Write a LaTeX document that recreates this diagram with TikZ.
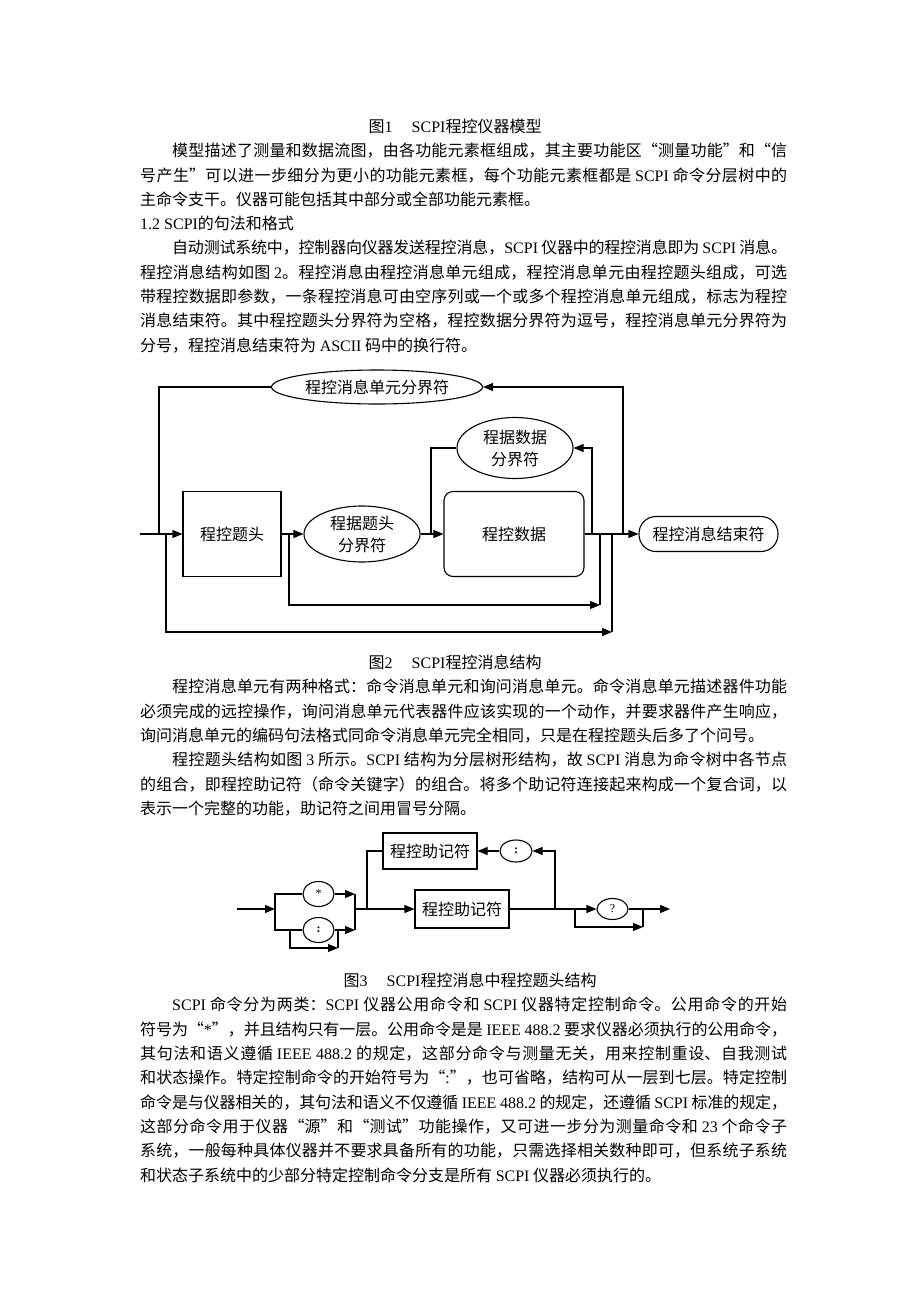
\documentclass[tikz,border=0pt]{standalone}
\usepackage{fontspec}
\setmainfont{Noto Sans CJK SC}
\newfontfamily\latinfont{Liberation Serif}
\newcommand\EN[1]{{\latinfont #1}}
\usetikzlibrary{arrows.meta,shapes.geometric,shapes.misc}
\newcommand\JL[2][0pt]{\parbox[t]{647pt}{\XeTeXlinebreaklocale "zh"\XeTeXlinebreakskip=0pt plus 3pt minus 0.6pt\tolerance=10000\hbadness=10000\parfillskip=0pt\parindent=0pt\noindent\hspace*{#1}#2}}
\begin{document}
\begin{tikzpicture}[x=1pt,y=-1pt,font=\fontsize{16pt}{22pt}\selectfont,
  ln/.style={line width=1.1pt},
  arr/.style={line width=1.1pt,-{Triangle[length=10pt,width=8pt]}},
  txt/.style={anchor=base west,inner sep=0pt},
  ttl/.style={anchor=base,inner sep=0pt},
  bx/.style={draw,line width=1.1pt,inner sep=0pt,align=center},
  el/.style={draw,ellipse,line width=1.1pt,inner sep=0pt,align=center},
  sm/.style={font=\fontsize{12pt}{12pt}\selectfont\latinfont}]
\useasboundingbox (0,0) rectangle (920,1302);
\fill[white] (0,0) rectangle (920,1302);

% ---------- text block 1 ----------
\node[ttl] (f1) at (455,132) {图\EN{1}\hspace{1.2em}\EN{SCPI}程控仪器模型};
\node[txt] (p1) at (140,156) {\JL[32pt]{模型描述了测量和数据流图，由各功能元素框组成，其主要功能区“测量功能”和“信}};
\node[txt] (p2) at (140,181) {\JL{号产生”可以进一步细分为更小的功能元素框，每个功能元素框都是 \EN{SCPI} 命令分层树中的}};
\node[txt] (p3) at (140,205) {主命令支干。仪器可能包括其中部分或全部功能元素框。};
\node[txt] (p4) at (140,229) {\EN{1.2 SCPI}的句法和格式};
\node[txt] (p5) at (140,253) {\JL[32pt]{自动测试系统中，控制器向仪器发送程控消息，\EN{SCPI} 仪器中的程控消息即为 \EN{SCPI} 消息。}};
\node[txt] (p6) at (140,278) {\JL{程控消息结构如图 \EN{2}。程控消息由程控消息单元组成，程控消息单元由程控题头组成，可选}};
\node[txt] (p7) at (140,302) {\JL{带程控数据即参数，一条程控消息可由空序列或一个或多个程控消息单元组成，标志为程控}};
\node[txt] (p8) at (140,326) {\JL{消息结束符。其中程控题头分界符为空格，程控数据分界符为逗号，程控消息单元分界符为}};
\node[txt] (p9) at (140,351) {分号，程控消息结束符为 \EN{ASCII} 码中的换行符。};

% ---------- figure 2 ----------
\node[el,minimum width=211pt,minimum height=34pt] (sep1) at (377,387) {程控消息单元分界符};
\node[bx,minimum width=98pt,minimum height=85pt] (hdr) at (232,534) {程控题头};
\node[el,minimum width=116pt,minimum height=56pt] (hsep) at (362,534) {程据题头\\分界符};
\node[el,minimum width=116pt,minimum height=61pt] (dsep) at (515,448) {程据数据\\分界符};
\node[bx,rounded corners=9pt,minimum width=140pt,minimum height=85pt] (data) at (514,534) {程控数据};
\node[bx,rounded corners=17pt,minimum width=139pt,minimum height=35pt] (endn) at (708.5,534) {程控消息结束符};

\coordinate (in1) at (140,534);
\coordinate (j1) at (159,534);
\coordinate (j2) at (166,534);
\coordinate (j3) at (289,534);
\coordinate (j4) at (431,534);
\coordinate (j5) at (592,534);
\coordinate (k3) at (600,534);
\coordinate (k2) at (612,534);
\coordinate (j6) at (623,534);
\coordinate (b3) at (600,605);
\coordinate (b2) at (612,632);

\draw[arr] (in1) -- (hdr.west);
\draw[ln] (j1) |- (sep1.west);
\draw[arr] (j2) |- (b2);
\draw[ln] (b2) -- (k2);
\draw[arr] (j3) |- (b3);
\draw[ln] (b3) -- (k3);
\draw[arr] (hdr.east) -- (hsep.west);
\draw[ln] (hsep.east) -- (j4);
\draw[arr] (j4) -- (data.west);
\draw[ln] (j4) |- (dsep.west);
\draw[arr] (data.east) -- (endn.west);
\draw[arr] (j5) |- (dsep.east);
\draw[arr] (j6) |- (sep1.east);

% ---------- text block 2 ----------
\node[ttl] (f2) at (455,668) {图\EN{2}\hspace{1.2em}\EN{SCPI}程控消息结构};
\node[txt] (q1) at (140,692) {\JL[32pt]{程控消息单元有两种格式：命令消息单元和询问消息单元。命令消息单元描述器件功能}};
\node[txt] (q2) at (140,717) {\JL{必须完成的远控操作，询问消息单元代表器件应该实现的一个动作，并要求器件产生响应，}};
\node[txt] (q3) at (140,741) {询问消息单元的编码句法格式同命令消息单元完全相同，只是在程控题头后多了个问号。};
\node[txt] (q4) at (140,765) {\JL[32pt]{程控题头结构如图 \EN{3} 所示。\EN{SCPI} 结构为分层树形结构，故 \EN{SCPI} 消息为命令树中各节点}};
\node[txt] (q5) at (140,790) {\JL{的组合，即程控助记符（命令关键字）的组合。将多个助记符连接起来构成一个复合词，以}};
\node[txt] (q6) at (140,814) {表示一个完整的功能，助记符之间用冒号分隔。};

% ---------- figure 3 ----------
\node[el,minimum width=31pt,minimum height=25pt,sm] (star) at (318.5,894) {*};
\node[el,minimum width=31pt,minimum height=25pt,sm] (col1) at (318.5,930) {\textbf{:}};
\node[bx,minimum width=94pt,minimum height=36pt] (mn1) at (430,851) {程控助记符};
\node[bx,minimum width=94pt,minimum height=38pt] (mn2) at (462,909) {程控助记符};
\node[el,minimum width=32pt,minimum height=22pt,sm] (col2) at (516,851) {\textbf{:}};
\node[el,minimum width=31pt,minimum height=21pt,sm] (qm) at (612.5,909) {?};

\coordinate (in3) at (237,909);
\coordinate (a1) at (275,909);
\coordinate (a1t) at (275,894);
\coordinate (a1b) at (275,930);
\coordinate (a2t) at (355,894);
\coordinate (a2m) at (355,909);
\coordinate (a2b) at (355,930);
\coordinate (c1) at (290,930);
\coordinate (c2) at (338,948);
\coordinate (c3) at (338,930);
\coordinate (j7) at (367,909);
\coordinate (j8) at (555,909);
\coordinate (j9) at (575,909);
\coordinate (b9) at (643,927);
\coordinate (k9) at (643,909);
\coordinate (out3) at (670,909);

\draw[arr] (in3) -- (a1);
\draw[ln] (star.west) -- (a1t) -- (a1b) -- (col1.west);
\draw[arr] (star.east) -- (a2t);
\draw[arr] (col1.east) -- (a2b);
\draw[ln] (a2t) -- (a2b);
\draw[arr] (c1) |- (c2);
\draw[ln] (c2) -- (c3);
\draw[arr] (a2m) -- (mn2.west);
\draw[ln] (j7) |- (mn1.west);
\draw[ln] (mn2.east) -- (j8);
\draw[arr] (j8) |- (col2.east);
\draw[arr] (col2.west) -- (mn1.east);
\draw[arr] (j8) -- (qm.west);
\draw[arr] (j9) |- (b9);
\draw[ln] (b9) -- (k9);
\draw[arr] (qm.east) -- (out3);

% ---------- text block 3 ----------
\node[ttl] (f3) at (470,986) {图\EN{3}\hspace{1.2em}\EN{SCPI}程控消息中程控题头结构};
\node[txt] (r1) at (140,1010) {\JL[32pt]{\EN{SCPI} 命令分为两类：\EN{SCPI} 仪器公用命令和 \EN{SCPI} 仪器特定控制命令。公用命令的开始}};
\node[txt] (r2) at (140,1035) {\JL{符号为“\EN{*}”，并且结构只有一层。公用命令是是 \EN{IEEE 488.2} 要求仪器必须执行的公用命令，}};
\node[txt] (r3) at (140,1059) {\JL{其句法和语义遵循 \EN{IEEE 488.2} 的规定，这部分命令与测量无关，用来控制重设、自我测试}};
\node[txt] (r4) at (140,1083) {\JL{和状态操作。特定控制命令的开始符号为“\EN{:}”，也可省略，结构可从一层到七层。特定控制}};
\node[txt] (r5) at (140,1108) {\JL{命令是与仪器相关的，其句法和语义不仅遵循 \EN{IEEE 488.2} 的规定，还遵循 \EN{SCPI} 标准的规定，}};
\node[txt] (r6) at (140,1132) {\JL{这部分命令用于仪器“源”和“测试”功能操作，又可进一步分为测量命令和 \EN{23} 个命令子}};
\node[txt] (r7) at (140,1156) {\JL{系统，一般每种具体仪器并不要求具备所有的功能，只需选择相关数种即可，但系统子系统}};
\node[txt] (r8) at (140,1181) {和状态子系统中的少部分特定控制命令分支是所有 \EN{SCPI} 仪器必须执行的。};
\end{tikzpicture}
\end{document}
